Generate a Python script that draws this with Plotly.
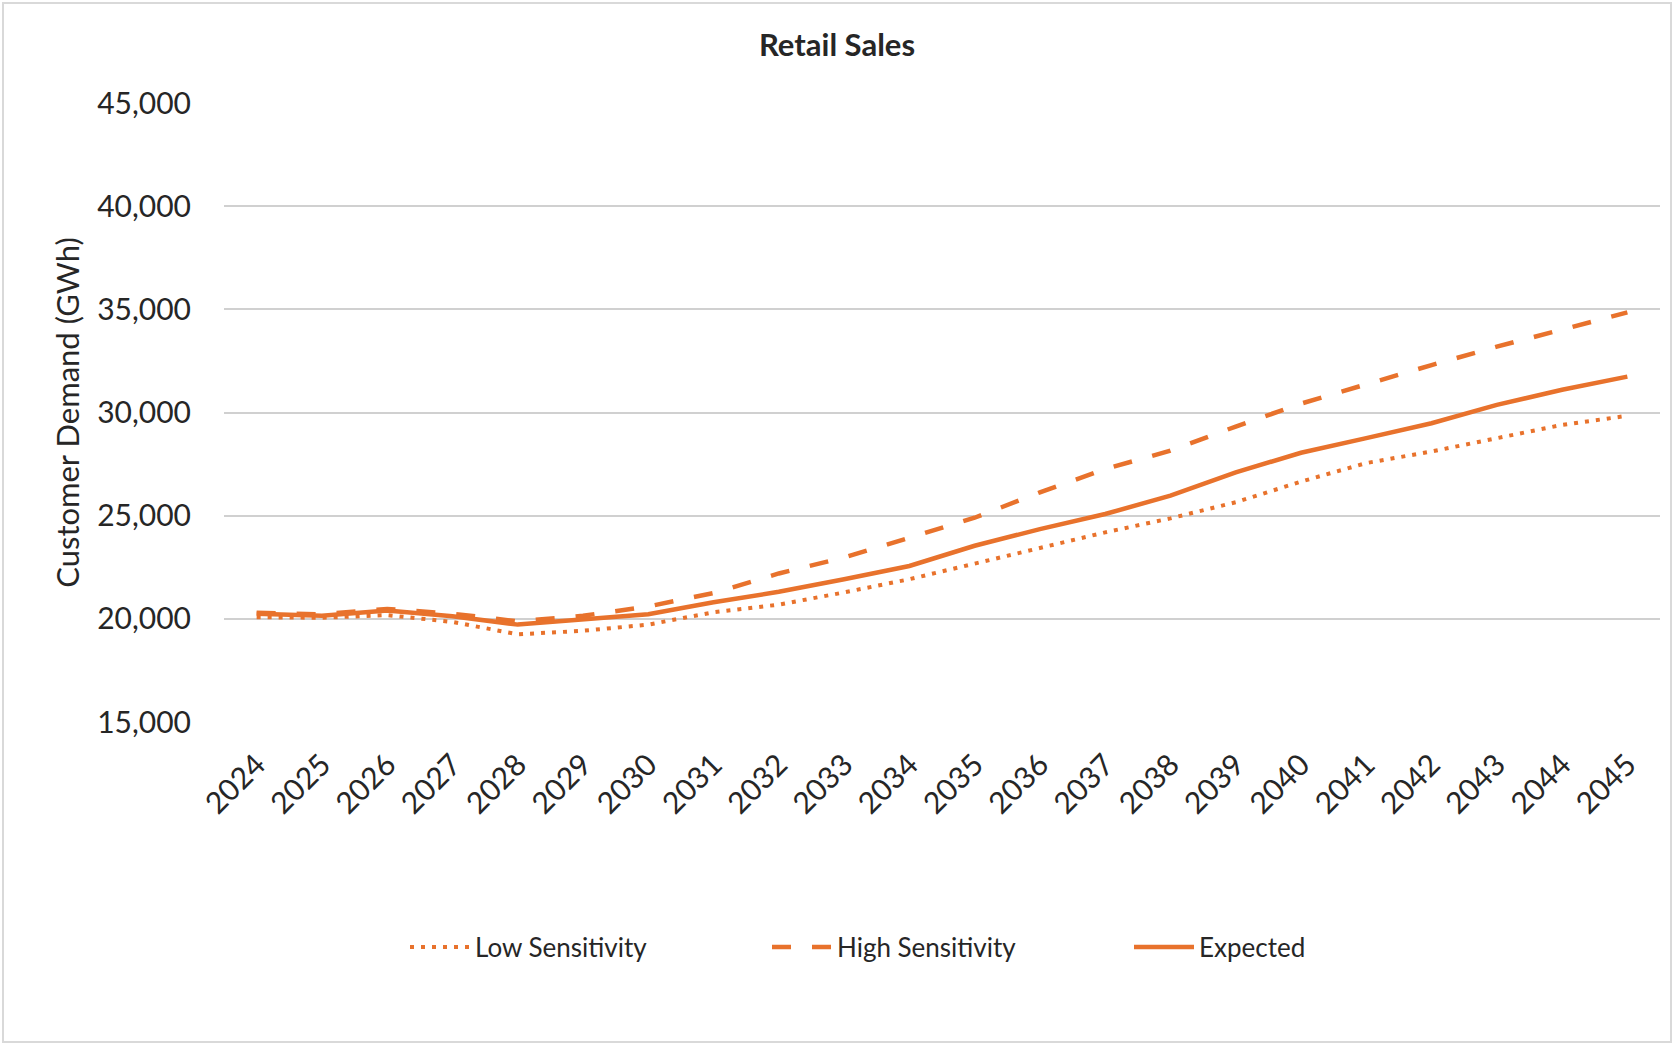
import plotly.graph_objects as go

years = [str(y) for y in range(2024, 2046)]
low_sensitivity = [20080, 20050, 20180, 19850, 19250, 19420, 19720, 20320, 20690, 21280, 21920,
                   22680, 23470, 24190, 24870, 25650, 26650, 27550, 28110, 28760, 29400, 29840]
high_sensitivity = [20290, 20220, 20480, 20250, 19880, 20150, 20600, 21250, 22200, 22970, 23930,
                    24900, 26130, 27260, 28150, 29320, 30430, 31390, 32300, 33190, 34030, 34850]
expected = [20250, 20150, 20400, 20120, 19720, 19950, 20220, 20800, 21310, 21920, 22560,
            23540, 24350, 25080, 25970, 27100, 28050, 28760, 29480, 30370, 31100, 31740]
y_ticks = [15000, 20000, 25000, 30000, 35000, 40000, 45000]

ORANGE = "#E8722C"
FONT = "Lato"
TXT = "#262626"

fig = go.Figure()
fig.add_trace(go.Scatter(x=years, y=low_sensitivity, name="Low Sensitivity", mode="lines",
                         line=dict(color=ORANGE, width=4, dash="4px,7px")))
fig.add_trace(go.Scatter(x=years, y=high_sensitivity, name="High Sensitivity", mode="lines",
                         line=dict(color=ORANGE, width=4.5, dash="19px,21px")))
fig.add_trace(go.Scatter(x=years, y=expected, name="Expected", mode="lines",
                         line=dict(color=ORANGE, width=4.5)))

L, R, T, B = 224, 14, 103, 323
W, H = 1674, 1045
pw, ph = W - L - R, H - T - B

fig.update_layout(
    width=W, height=H,
    margin=dict(l=L, r=R, t=T, b=B, pad=0),
    paper_bgcolor="white", plot_bgcolor="white",
    font=dict(family=FONT, color=TXT, size=27),
    title=dict(text="<b>Retail Sales</b>", x=0.5, xanchor="center", y=1 - 45 / H, yanchor="middle",
               font=dict(family=FONT, size=31, color=TXT)),
    showlegend=True,
    legend=dict(orientation="h", x=(405 - L) / pw, xanchor="left", y=-(947 - (T + ph)) / ph,
                yanchor="middle", entrywidth=287, entrywidthmode="pixels",
                font=dict(family=FONT, size=26, color=TXT), itemwidth=60,
                traceorder="normal"),
    xaxis=dict(type="category", range=[-0.5, 21.5], showgrid=False, zeroline=False,
               showline=False, tickangle=-45, ticks="outside", ticklen=12,
               tickcolor="rgba(0,0,0,0)", tickfont=dict(family=FONT, size=30, color=TXT)),
    yaxis=dict(range=[15000, 45000], tickvals=y_ticks, tickformat=",", showgrid=True,
               gridcolor="#D0D0D0", gridwidth=1.5, zeroline=False, showline=False,
               ticks="outside", ticklen=26, tickcolor="rgba(0,0,0,0)",
               tickfont=dict(family=FONT, size=30, color=TXT),
               title=dict(text="Customer Demand (GWh)", standoff=8,
                          font=dict(family=FONT, size=31, color=TXT))),
    shapes=[dict(type="rect", xref="paper", yref="paper",
                 x0=(3 - L) / pw, x1=(W - 3 - L) / pw,
                 y0=-(H - 3 - (T + ph)) / ph, y1=1 + (T - 3) / ph,
                 line=dict(color="#D9D9D9", width=2), fillcolor="rgba(0,0,0,0)", layer="below")],
)

fig.write_html("out.html")
